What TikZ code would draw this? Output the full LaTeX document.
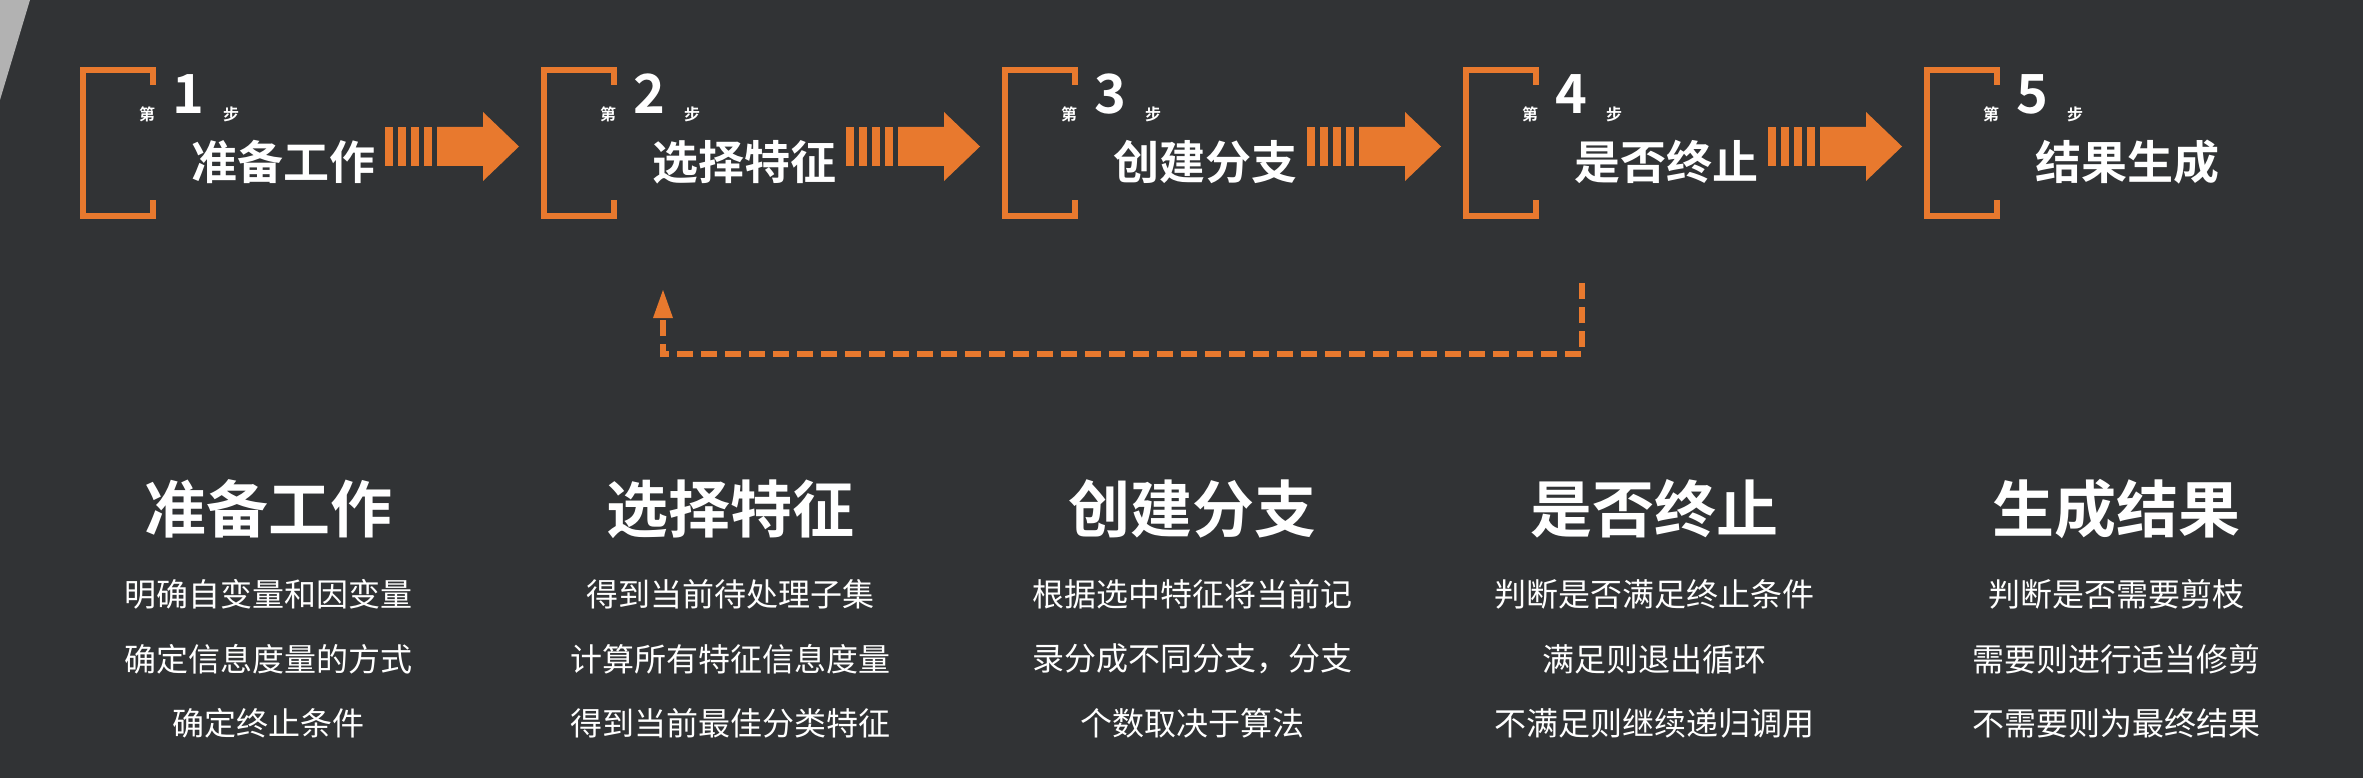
\documentclass[tikz,border=0pt]{standalone}
\usepackage{fontspec}
\newfontfamily\cjk{Noto Sans CJK SC}
\newfontfamily\cjkb{Noto Sans CJK SC Bold}
\begin{document}
\begin{tikzpicture}[x=1pt,y=-1pt,
  every node/.style={text=white,inner sep=0pt},
  brk/.style={draw=orn,line width=6pt},
  lab/.style={font=\cjkb\fontsize{46}{46}\selectfont},
  num/.style={font=\cjkb\fontsize{54}{54}\selectfont},
  small/.style={font=\cjkb\fontsize{16}{16}\selectfont},
  ttl/.style={font=\cjkb\fontsize{62}{62}\selectfont},
  desc/.style={font=\cjk\fontsize{32}{32}\selectfont,align=center}]
\definecolor{bg}{HTML}{313335}
\definecolor{orn}{HTML}{E8792E}
\fill[bg] (0,0) rectangle (2363,778);
\fill[gray!60] (0,0) -- (30,0) -- (0,100) -- cycle;
\foreach \i/\lbl in {1/准备工作,2/选择特征,3/创建分支,4/是否终止,5/结果生成}{
  \pgfmathsetmacro\bx{83+(\i-1)*461}
  \draw[brk] (\bx+70,85) |- (\bx,70) |- (\bx+70,216) -- (\bx+70,200);
  \node[small] (d\i) at (\bx+64,114) {第};
  \node[num] (n\i) at (\bx+105,94) {\i};
  \node[small] (s\i) at (\bx+148,114) {步};
  \node[lab] (l\i) at (\bx+200,162) {\lbl};
}
\foreach \i in {1,2,3,4}{
  \pgfmathsetmacro\ax{83+(\i-1)*461+302}
  \foreach \k in {0,1,2,3}{\fill[orn] (\ax+\k*13,127) rectangle +(8,39);}
  \fill[orn] (\ax+52,127) rectangle (\ax+98,166) -- (\ax+98,112) -- (\ax+134,146.5) -- (\ax+98,181) -- cycle;
}
\coordinate (ds) at (1582,283);
\coordinate (dc1) at (1582,354);
\coordinate (dc2) at (663,354);
\coordinate (de) at (663,290);
\draw[orn,line width=6pt,dash pattern=on 16pt off 8pt] (ds) -- (dc1) -- (dc2) -- (663,318);
\fill[orn] (de) -- (653,318) -- (673,318) -- cycle;
\foreach \i/\t/\a/\b/\c in {
 1/准备工作/明确自变量和因变量/确定信息度量的方式/确定终止条件,
 2/选择特征/得到当前待处理子集/计算所有特征信息度量/得到当前最佳分类特征,
 3/创建分支/根据选中特征将当前记/录分成不同分支，分支/个数取决于算法,
 4/是否终止/判断是否满足终止条件/满足则退出循环/不满足则继续递归调用,
 5/生成结果/判断是否需要剪枝/需要则进行适当修剪/不需要则为最终结果}{
  \pgfmathsetmacro\cx{268+(\i-1)*462}
  \node[ttl] (t\i) at (\cx,509) {\t};
  \node[desc] (a\i) at (\cx,594) {\a};
  \node[desc] (b\i) at (\cx,659) {\b};
  \node[desc] (c\i) at (\cx,723) {\c};
}
\end{tikzpicture}
\end{document}
